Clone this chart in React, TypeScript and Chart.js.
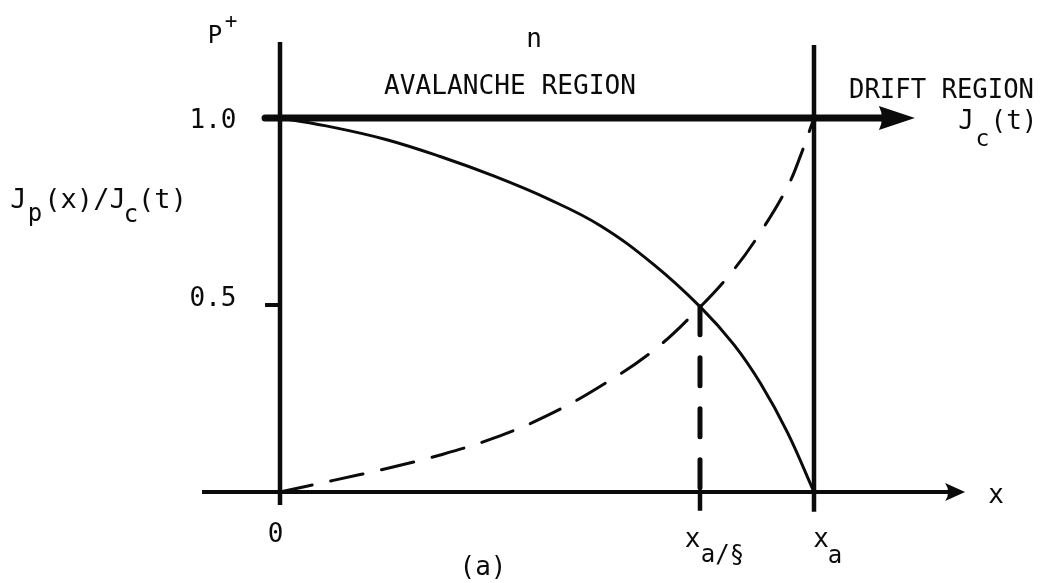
import React, { useEffect, useRef } from "react";
import { Chart, registerables } from "chart.js";

Chart.register(...registerables);

// Position along the avalanche region, in units of x_a.
// Hole current J_p(x)/J_c(t): falls from 1 at x = 0 to 0 at x = x_a.
const holeX = [0, 0.1, 0.2, 0.3, 0.4, 0.5, 0.6, 0.7, 0.787, 0.85, 0.9, 0.95, 1.0];
const holeY = [1.0, 0.975, 0.942, 0.897, 0.845, 0.785, 0.712, 0.608, 0.495, 0.394, 0.29, 0.16, 0];

// Electron current fraction: rises from 0 at x = 0 to 1 at x = x_a.
const electronX = [0, 0.1, 0.2, 0.3, 0.4, 0.5, 0.6, 0.7, 0.787, 0.85, 0.9, 0.95, 0.975, 1.0];
const electronY = [0, 0.031, 0.063, 0.099, 0.144, 0.204, 0.283, 0.379, 0.495, 0.595, 0.695, 0.815, 0.9, 1.0];

// Point where both currents equal one half: x = x_a/§.
const crossX = 0.7865;
const crossY = 0.495;

// Tick values and their labels.
const yTickValues = [0.5, 1.0];
const yTickLabels = ["0.5", "1.0"];

// Extents of the frame lines (data units).
const xAxisFrom = -0.146;
const xAxisTip = 1.283;
const currentFrom = -0.028;
const currentTip = 1.189;
const leftEdge = [-0.035, 1.203];
const rightEdge = [-0.053, 1.195];
const tickBelow = -0.05;

const INK = "#0b0b0b";
const FONT = "'DejaVu Sans Mono', 'Liberation Mono', monospace";

function put(ctx: CanvasRenderingContext2D, text: string, cx: number, base: number, size: number, fit?: number) {
  ctx.save();
  ctx.font = `${size}px ${FONT}`;
  ctx.textAlign = "center";
  ctx.textBaseline = "alphabetic";
  if (fit) {
    const w = ctx.measureText(text).width;
    const s = fit / w;
    ctx.translate(cx, base);
    ctx.scale(s, 1);
    ctx.fillText(text, 0, 0);
  } else {
    ctx.fillText(text, cx, base);
  }
  ctx.restore();
}

function arrowHead(ctx: CanvasRenderingContext2D, tipX: number, tipY: number, len: number, half: number) {
  ctx.beginPath();
  ctx.moveTo(tipX, tipY);
  ctx.lineTo(tipX - len, tipY - half);
  ctx.quadraticCurveTo(tipX - len + 6, tipY, tipX - len, tipY + half);
  ctx.closePath();
  ctx.fill();
}

const overlay = {
  id: "overlay",
  afterDatasetsDraw(chart: any) {
    const { ctx } = chart;
    const xs = chart.scales.x;
    const ys = chart.scales.y;
    const X = (v: number) => xs.getPixelForValue(v);
    const Y = (v: number) => ys.getPixelForValue(v);
    ctx.save();
    ctx.fillStyle = INK;

    // arrowheads on the current line and on the x axis
    arrowHead(ctx, X(currentTip), Y(1), 36, 12);
    arrowHead(ctx, X(xAxisTip), Y(0), 20, 9);

    // y tick labels
    yTickValues.forEach((v, i) => {
      put(ctx, yTickLabels[i], X(0) - 67, Y(v) + (v === 1 ? 10 : 1), 26);
    });

    // x tick labels
    put(ctx, "0", X(0) - 4.5, Y(0) + 50, 26);
    put(ctx, "x", X(crossX) - 7.5, Y(0) + 55, 26);
    put(ctx, "a/§", X(crossX) + 22.5, Y(0) + 70, 24);
    put(ctx, "x", X(1) + 7, Y(0) + 55, 26);
    put(ctx, "a", X(1) + 21, Y(0) + 71, 24);
    put(ctx, "x", X(xAxisTip) + 31, Y(0) + 11, 26);
    put(ctx, "(a)", 483, 575, 26);

    // top annotations
    put(ctx, "P", 215, 43, 24);
    put(ctx, "+", 231, 28, 21);
    put(ctx, "n", 534, 47, 26);
    put(ctx, "AVALANCHE REGION", 510, 94, 26, 252);
    put(ctx, "DRIFT REGION", 941.5, 98, 26, 185);
    put(ctx, "J", 966, 129, 26);
    put(ctx, "c", 982.5, 146, 23);
    put(ctx, "(t)", 1014, 129, 26);

    // y axis quantity
    put(ctx, "J", 18.5, 208, 27);
    put(ctx, "p", 35, 221, 24);
    put(ctx, "(x)/J", 85, 208, 27);
    put(ctx, "c", 131, 222, 24);
    put(ctx, "(t)", 162.5, 208, 27);

    ctx.restore();
  },
};

function seg(x: number[], y: number[]) {
  return x.map((v, i) => ({ x: v, y: y[i] }));
}

export default function App() {
  const ref = useRef<HTMLCanvasElement | null>(null);

  useEffect(() => {
    if (!ref.current) return;
    const base = {
      showLine: true,
      pointRadius: 0,
      borderColor: INK,
      backgroundColor: INK,
      fill: false,
    };
    const chart = new Chart(ref.current, {
      type: "scatter",
      data: {
        datasets: [
          // frame: x axis
          { ...base, data: seg([xAxisFrom, xAxisTip - 0.03], [0, 0]), borderWidth: 4 },
          // frame: boundaries at 0 and x_a
          { ...base, data: seg([0, 0], leftEdge), borderWidth: 4.5 },
          { ...base, data: seg([1, 1], rightEdge), borderWidth: 4.5 },
          // conduction current J_c(t) at level 1.0
          { ...base, data: seg([currentFrom, currentTip - 0.05], [1, 1]), borderWidth: 7, borderCapStyle: "round" },
          // 0.5 tick on the left boundary
          { ...base, data: seg([currentFrom, 0], [0.5, 0.5]), borderWidth: 4 },
          // hole current
          {
            ...base,
            data: seg(holeX, holeY),
            borderWidth: 3,
            tension: 0.4,
          },
          // electron current
          {
            ...base,
            data: seg(electronX, electronY),
            borderWidth: 3,
            borderDash: [33, 19],
            borderCapStyle: "round",
            tension: 0.4,
          },
          // marker at x_a/§
          {
            ...base,
            data: seg([crossX, crossX], [crossY, 0]),
            borderWidth: 5,
            borderDash: [28, 23],
            borderCapStyle: "round",
          },
          { ...base, data: seg([crossX, crossX], [0, tickBelow]), borderWidth: 4.5 },
        ],
      },
      options: {
        responsive: false,
        animation: false,
        devicePixelRatio: 1,
        layout: { padding: 0, autoPadding: false },
        plugins: { legend: { display: false }, tooltip: { enabled: false } },
        events: [],
        scales: {
          x: { type: "linear", display: false, min: -280 / 534, max: (1042 - 280) / 534 },
          y: { type: "linear", display: false, min: (492 - 583) / 374, max: 492 / 374 },
        },
      } as any,
      plugins: [overlay],
    });
    return () => chart.destroy();
  }, []);

  return (
    <div style={{ position: "absolute", left: 0, top: 0, width: 1042, height: 583, background: "#fff" }}>
      <canvas ref={ref} width={1042} height={583} style={{ display: "block" }} />
    </div>
  );
}
